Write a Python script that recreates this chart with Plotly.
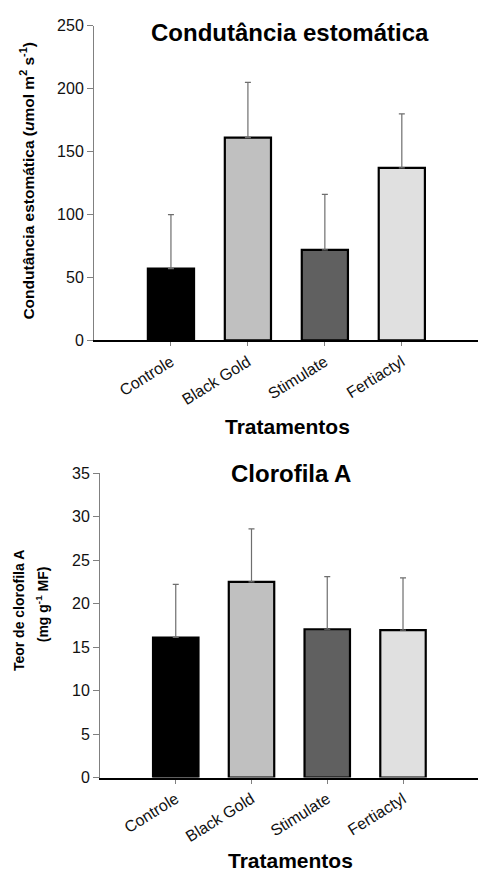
import plotly.graph_objects as go

categories = ["Controle", "Black Gold", "Stimulate", "Fertiactyl"]
colors = ["#000000", "#c0c0c0", "#606060", "#e0e0e0"]

cond_values = [57, 161, 72, 137]
cond_errors = [43, 44, 44, 43]

clor_values = [16.1, 22.5, 17.05, 16.95]
clor_errors = [6.1, 6.1, 6.05, 6.0]

W, H = 478, 879
FONT = "Liberation Sans, Arial, sans-serif"


def bar_trace(vals, errs, xa, ya):
    return go.Bar(
        x=list(range(len(categories))), y=vals, width=0.6,
        marker=dict(color=colors, line=dict(color="#000000", width=2.2)),
        error_y=dict(type="data", array=errs, arrayminus=[0] * len(errs),
                     symmetric=False, color="#6e6e6e", thickness=1.2, width=3),
        xaxis=xa, yaxis=ya, showlegend=False, hoverinfo="skip",
    )


fig = go.Figure()
fig.add_trace(bar_trace(cond_values, cond_errors, "x", "y"))
fig.add_trace(bar_trace(clor_values, clor_errors, "x2", "y2"))

xcommon = dict(
    range=[-1, 3.99], tickmode="array", tickvals=list(range(len(categories))),
    ticktext=categories, tickangle=-32, showline=True, linecolor="#000000",
    linewidth=2, ticks="outside", ticklen=4, tickcolor="#808080", tickwidth=1,
    showgrid=False, zeroline=False,
    tickfont=dict(family=FONT, size=16, color="#111111"),
)
ycommon = dict(
    showline=True, linecolor="#808080", linewidth=1, ticks="outside",
    ticklen=6, tickcolor="#808080", tickwidth=1, showgrid=False, zeroline=False,
    tickfont=dict(family=FONT, size=16, color="#111111"),
)

fig.update_layout(
    width=W, height=H, margin=dict(l=0, r=0, t=0, b=0),
    paper_bgcolor="white", plot_bgcolor="white",
    xaxis=dict(domain=[94 / W, 1], anchor="y", **xcommon),
    yaxis=dict(domain=[(H - 339) / H, (H - 18) / H], anchor="x",
               range=[0, 250], tickvals=[0, 50, 100, 150, 200, 250], **ycommon),
    xaxis2=dict(domain=[100 / W, 1], anchor="y2", **xcommon),
    yaxis2=dict(domain=[(H - 784.7) / H, (H - 474.3) / H], anchor="x2",
                range=[0, 35], tickvals=[0, 5, 10, 15, 20, 25, 30, 35], **ycommon),
)


def ann(text, x, y, size, angle=0):
    fig.add_annotation(
        text=text, x=x / W, y=1 - y / H, xref="paper", yref="paper",
        showarrow=False, textangle=angle, xanchor="center", yanchor="middle",
        font=dict(family=FONT, size=size, color="#000000"),
    )


ann("<b>Condutância estomática</b>", 290, 25, 24)
ann("<b>Clorofila A</b>", 291, 475, 24)
ann("<b>Tratamentos</b>", 287, 427, 21)
ann("<b>Tratamentos</b>", 290, 869, 21)
ann("<b>Condutância estomática (<i>u</i>mol m<sup>2</sup> s<sup>-1</sup>)</b>", 27, 176, 15.5, -90)
ann("<b>Teor de clorofila A</b>", 19, 615, 14, -90)
ann("<b>(mg g<sup>-1</sup> MF)</b>", 42, 608, 14, -90)

fig.write_html("out.html")
